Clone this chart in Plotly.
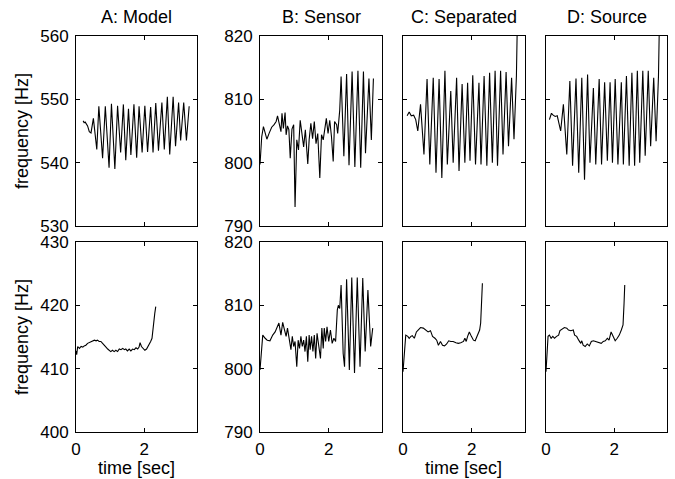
import plotly.graph_objects as go

# ---------------- data (time [sec], frequency [Hz]) ----------------
titles = ["A: Model", "B: Sensor", "C: Separated", "D: Source"]

a_top_t = [0.21, 0.24, 0.27, 0.31, 0.34, 0.39, 0.44, 0.51, 0.61, 0.67, 0.78, 0.86, 0.97, 1.04, 1.14, 1.22,
           1.31, 1.39, 1.46, 1.54, 1.61, 1.70, 1.78, 1.85, 1.94, 2.02, 2.10, 2.19, 2.26, 2.34, 2.42,
           2.52, 2.59, 2.68, 2.75, 2.85, 2.92, 3.01, 3.07, 3.16, 3.24, 3.32]
a_top_f = [546.6, 546.3, 546.4, 546.0, 545.8, 544.9, 544.7, 547.0, 542.1, 548.9, 540.7, 548.9, 539.2, 549.3,
           539.0, 549.0, 541.6, 549.2, 540.4, 548.5, 541.2, 549.2, 540.8, 548.9, 541.6, 549.0, 541.7,
           548.8, 541.6, 549.4, 541.9, 549.5, 542.1, 550.4, 541.3, 550.4, 542.6, 549.5, 543.5, 549.5,
           543.5, 548.9]

b_top_t = [0.0, 0.05, 0.10, 0.15, 0.20, 0.27, 0.34, 0.41, 0.47, 0.51, 0.56, 0.61, 0.64, 0.68, 0.73, 0.76,
           0.80, 0.84, 0.88, 0.93, 0.98, 1.02, 1.07, 1.12, 1.17, 1.22, 1.27, 1.32, 1.39, 1.43, 1.48,
           1.53, 1.58, 1.63, 1.68, 1.74, 1.79, 1.84, 1.88, 1.93, 1.98, 2.03, 2.08, 2.13, 2.17, 2.23,
           2.26, 2.30, 2.32, 2.36, 2.44, 2.52, 2.59, 2.68, 2.76, 2.85, 2.93, 3.01, 3.07, 3.17, 3.24, 3.30]
b_top_f = [799.7, 804.1, 805.7, 804.6, 803.7, 804.7, 805.6, 806.0, 806.5, 807.4, 806.0, 804.9, 807.8, 805.4,
           807.9, 804.4, 805.8, 805.2, 800.7, 805.3, 806.0, 793.0, 803.6, 802.0, 806.7, 804.1, 802.5,
           805.2, 799.8, 803.6, 806.2, 803.8, 806.5, 803.0, 804.6, 797.6, 804.4, 803.6, 805.4, 807.0,
           804.6, 806.7, 804.1, 800.2, 806.5, 806.0, 804.6, 807.3, 808.3, 813.6, 801.0, 814.0, 799.6,
           814.4, 799.3, 814.5, 799.2, 814.4, 801.5, 813.3, 803.6, 813.3]

c_top_t = [0.12, 0.18, 0.24, 0.31, 0.37, 0.43, 0.51, 0.61, 0.70, 0.78, 0.88, 0.96, 1.05, 1.13, 1.22, 1.29,
           1.39, 1.46, 1.56, 1.63, 1.72, 1.80, 1.88, 1.95, 2.03, 2.11, 2.21, 2.27, 2.36, 2.44, 2.52,
           2.60, 2.68, 2.75, 2.84, 2.91, 3.00, 3.07, 3.16, 3.23, 3.30, 3.32]
c_top_f = [807.4, 808.0, 807.4, 807.5, 806.8, 805.0, 809.2, 801.3, 813.2, 799.7, 813.4, 798.4, 813.2, 797.6,
           814.5, 799.7, 811.3, 800.0, 813.4, 798.7, 812.4, 800.0, 812.6, 800.3, 813.8, 799.7, 812.6,
           799.7, 813.7, 799.5, 814.2, 800.0, 814.5, 799.5, 814.5, 801.3, 814.3, 802.6, 813.4, 803.7,
           813.7, 820.0]

d_top_t = [0.10, 0.16, 0.21, 0.27, 0.33, 0.37, 0.43, 0.51, 0.61, 0.70, 0.78, 0.88, 0.96, 1.05, 1.13, 1.22,
           1.29, 1.39, 1.46, 1.56, 1.63, 1.72, 1.80, 1.88, 1.95, 2.03, 2.11, 2.21, 2.27, 2.36, 2.44,
           2.52, 2.60, 2.68, 2.75, 2.84, 2.91, 3.00, 3.07, 3.16, 3.23, 3.30, 3.32]
d_top_f = [806.8, 807.8, 807.5, 807.3, 807.4, 806.6, 805.0, 809.2, 801.3, 812.9, 799.5, 813.3, 798.4, 813.4,
           797.3, 813.9, 800.0, 811.8, 799.7, 813.2, 799.7, 812.7, 800.3, 812.7, 800.0, 813.2, 799.7,
           812.7, 799.7, 813.7, 799.5, 814.2, 799.5, 814.5, 800.0, 814.5, 801.1, 814.5, 802.6, 813.4,
           803.4, 813.7, 820.0]

a_bot_t = [0.0, 0.02, 0.05, 0.10, 0.15, 0.20, 0.24, 0.29, 0.34, 0.39, 0.44, 0.49, 0.54, 0.59, 0.63, 0.68,
           0.73, 0.78, 0.83, 0.88, 0.93, 0.98, 1.02, 1.07, 1.12, 1.17, 1.22, 1.27, 1.32, 1.37, 1.42,
           1.46, 1.51, 1.56, 1.61, 1.66, 1.71, 1.76, 1.81, 1.85, 1.88, 1.92, 1.97, 2.02, 2.07, 2.13,
           2.19, 2.23, 2.25, 2.28, 2.31, 2.34]
a_bot_f = [412.8, 412.2, 413.5, 413.2, 413.5, 413.4, 413.6, 413.7, 414.0, 414.1, 414.3, 414.4, 414.5, 414.4,
           414.5, 414.3, 414.3, 414.0, 413.6, 413.4, 413.1, 412.8, 412.7, 412.9, 412.7, 412.9, 412.7,
           413.1, 413.0, 413.2, 413.0, 413.1, 412.8, 413.1, 412.8, 413.1, 413.0, 413.3, 413.1, 413.4,
           414.1, 413.5, 413.2, 412.9, 413.1, 413.6, 414.3, 414.8, 416.1, 417.7, 418.7, 419.8]

b_bot_t = [0.0, 0.08, 0.15, 0.21, 0.29, 0.37, 0.44, 0.49, 0.55, 0.61, 0.66, 0.70, 0.76, 0.80, 0.86, 0.90,
           0.94, 0.98, 1.02, 1.07, 1.11, 1.15, 1.19, 1.23, 1.27, 1.31, 1.35, 1.39, 1.43, 1.46, 1.50,
           1.54, 1.58, 1.62, 1.66, 1.71, 1.76, 1.80, 1.84, 1.87, 1.91, 1.95, 2.00, 2.05, 2.10, 2.15,
           2.20, 2.25, 2.28, 2.32, 2.36, 2.42, 2.46, 2.52, 2.60, 2.67, 2.75, 2.83, 2.91, 2.99, 3.06,
           3.14, 3.22, 3.28]
b_bot_f = [799.8, 805.3, 804.8, 804.5, 804.4, 805.3, 805.8, 806.6, 807.2, 805.3, 807.3, 806.4, 805.1, 806.4,
           804.5, 803.0, 805.1, 803.5, 804.3, 800.3, 804.5, 803.2, 805.1, 803.5, 804.5, 802.7, 805.1,
           801.1, 805.3, 803.0, 805.1, 802.7, 805.3, 801.6, 805.6, 803.5, 801.6, 806.4, 803.2, 806.4,
           804.3, 806.6, 804.3, 806.1, 804.0, 804.8, 804.3, 809.3, 810.0, 809.5, 813.2, 802.4, 800.3,
           814.1, 799.8, 814.4, 799.3, 814.4, 800.3, 814.3, 802.7, 812.4, 803.5, 806.4]

c_bot_t = [0.0, 0.08, 0.14, 0.18, 0.23, 0.27, 0.33, 0.39, 0.44, 0.51, 0.59, 0.66, 0.73, 0.80, 0.86, 0.93,
           0.98, 1.03, 1.09, 1.15, 1.21, 1.27, 1.33, 1.39, 1.46, 1.54, 1.61, 1.68, 1.76, 1.80, 1.84,
           1.88, 1.93, 1.99, 2.05, 2.10, 2.17, 2.23, 2.26, 2.29, 2.31]
c_bot_f = [799.5, 805.3, 805.1, 804.8, 805.1, 805.2, 804.8, 805.8, 806.1, 806.5, 806.4, 806.1, 805.8, 806.0,
           805.1, 804.8, 804.5, 803.7, 804.3, 803.7, 803.6, 803.9, 804.4, 804.3, 804.3, 804.1, 804.0,
           804.1, 804.3, 804.8, 804.3, 805.1, 805.8, 805.1, 804.5, 804.4, 805.3, 806.1, 807.2, 810.3,
           813.5]

d_bot_t = [0.0, 0.06, 0.10, 0.15, 0.20, 0.25, 0.31, 0.37, 0.41, 0.47, 0.54, 0.61, 0.66, 0.73, 0.80, 0.84,
           0.90, 0.96, 1.02, 1.05, 1.09, 1.15, 1.21, 1.27, 1.33, 1.39, 1.46, 1.54, 1.62, 1.68, 1.74,
           1.80, 1.85, 1.91, 1.97, 2.03, 2.09, 2.15, 2.21, 2.26, 2.29, 2.31]
d_bot_f = [799.5, 805.1, 805.3, 804.8, 805.1, 804.8, 805.1, 805.3, 806.0, 806.2, 806.5, 806.4, 806.1, 806.0,
           806.1, 805.3, 805.1, 804.5, 804.0, 804.4, 803.7, 803.5, 803.9, 803.6, 804.3, 804.4, 804.3,
           804.1, 804.0, 804.3, 804.4, 804.8, 804.5, 805.8, 805.2, 804.4, 804.8, 805.3, 806.1, 806.9,
           810.3, 813.2]

x_ticks = [0, 2]
y_top_a_ticks = [530, 540, 550, 560]
y_bot_a_ticks = [400, 410, 420, 430]
y_sensor_ticks = [790, 800, 810, 820]

series = [(a_top_t, a_top_f), (b_top_t, b_top_f), (c_top_t, c_top_f), (d_top_t, d_top_f),
          (a_bot_t, a_bot_f), (b_bot_t, b_bot_f), (c_bot_t, c_bot_f), (d_bot_t, d_bot_f)]

# ---------------- layout ----------------
W, H = 675, 479
col_px = [(76, 197), (260, 382), (403, 525), (546, 667)]
row_px = [(36, 226), (242, 432)]
FONT = "Liberation Sans, Arial, Helvetica, sans-serif"
FS_TICK = 17
FS_TEXT = 18

fig = go.Figure()
layout = dict(width=W, height=H, autosize=False, margin=dict(l=0, r=0, t=0, b=0, pad=0),
              paper_bgcolor="white", plot_bgcolor="white", showlegend=False,
              font=dict(family=FONT, size=FS_TICK, color="black"))

annotations = []
for r in range(2):
    for c in range(4):
        i = r * 4 + c + 1
        xs = "" if i == 1 else str(i)
        t, f = series[i - 1]
        fig.add_trace(go.Scatter(x=t, y=f, mode="lines", line=dict(color="black", width=1.1),
                                 xaxis="x" + xs, yaxis="y" + xs, hoverinfo="skip"))
        x0, x1 = col_px[c]
        y0, y1 = row_px[r]
        if c == 0:
            yt = y_top_a_ticks if r == 0 else y_bot_a_ticks
        else:
            yt = y_sensor_ticks
        common = dict(showline=True, linecolor="black", linewidth=1, mirror="ticks",
                      ticks="inside", ticklen=4, tickwidth=1, tickcolor="black",
                      showgrid=False, zeroline=False, fixedrange=True, automargin=False,
                      tickfont=dict(family=FONT, size=FS_TICK, color="black"))
        layout["xaxis" + xs] = dict(common, domain=[x0 / W, x1 / W], range=[0, 3.55],
                                    tickvals=x_ticks, ticktext=[str(v) for v in x_ticks],
                                    showticklabels=(r == 1), anchor="y" + xs, ticklabelstandoff=2)
        layout["yaxis" + xs] = dict(common, domain=[1 - y1 / H, 1 - y0 / H], range=[yt[0], yt[-1]],
                                    tickvals=yt, ticktext=[str(v) for v in yt],
                                    showticklabels=(c <= 1), anchor="x" + xs, ticklabelstandoff=3)
        if r == 0:
            annotations.append(dict(text=titles[c], x=(x0 + x1) / 2 / W, y=1 - 17 / H,
                                    xref="paper", yref="paper", showarrow=False,
                                    xanchor="center", yanchor="middle",
                                    font=dict(family=FONT, size=FS_TEXT, color="black")))

for r in range(2):
    y0, y1 = row_px[r]
    annotations.append(dict(text="frequency [Hz]", x=22 / W, y=1 - (y0 + y1) / 2 / H,
                            xref="paper", yref="paper", showarrow=False, textangle=-90,
                            xanchor="center", yanchor="middle",
                            font=dict(family=FONT, size=FS_TEXT, color="black")))
for c in (0, 2):
    x0, x1 = col_px[c]
    annotations.append(dict(text="time [sec]", x=(x0 + x1) / 2 / W, y=1 - 468 / H,
                            xref="paper", yref="paper", showarrow=False,
                            xanchor="center", yanchor="middle",
                            font=dict(family=FONT, size=FS_TEXT, color="black")))

layout["annotations"] = annotations
fig.update_layout(**layout)
fig.write_html("out.html",
               post_script="document.body.style.margin='0';document.body.style.padding='0';"
                           "document.documentElement.style.overflow='hidden';")
